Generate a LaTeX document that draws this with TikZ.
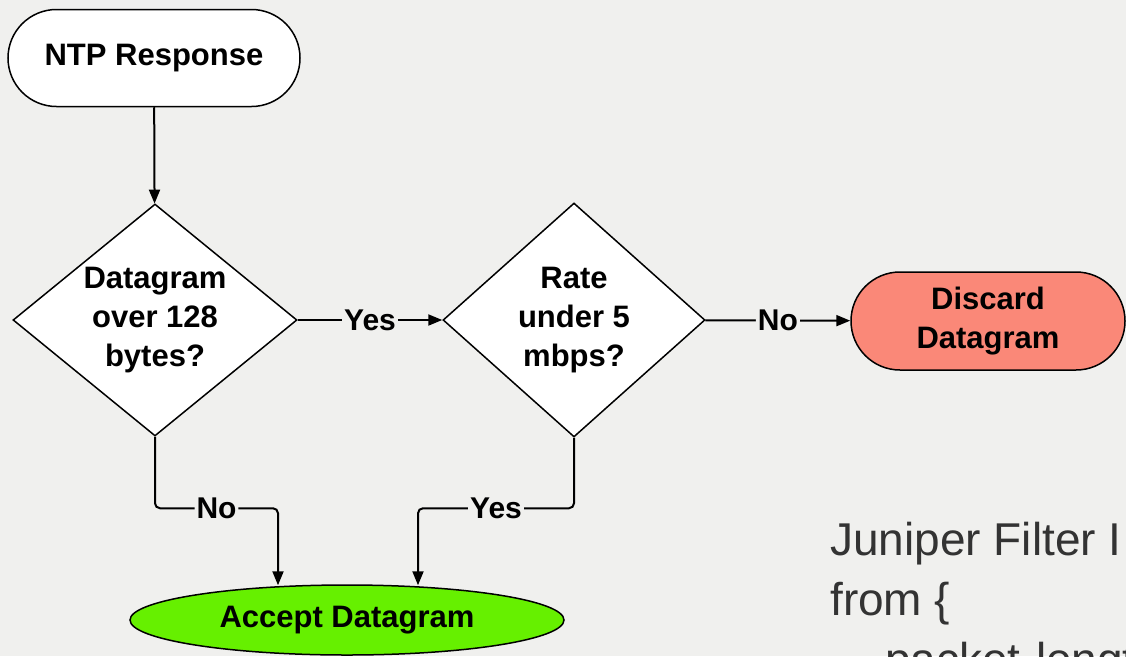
\documentclass[tikz,border=0pt]{standalone}
\usepackage{fontspec}
\setmainfont{Liberation Sans}
\usetikzlibrary{shapes.geometric,shapes.misc,arrows.meta,calc}
\definecolor{bgc}{HTML}{F0F0EE}
\definecolor{discardc}{HTML}{FA8878}
\definecolor{acceptc}{HTML}{66F000}
\definecolor{notec}{HTML}{333333}
\begin{document}
\begin{tikzpicture}[x=1pt, y=-1pt,
        box/.style={draw, line width=1.5pt, align=center, inner sep=0pt,
            font=\bfseries\fontsize{31}{39}\selectfont},
        term/.style={box, rounded rectangle},
        decision/.style={box, diamond, shape aspect=1.2, fill=white},
        flow/.style={line width=2pt, rounded corners=5pt, -{Triangle[length=14pt,width=11pt]}},
        lbl/.style={fill=bgc, inner sep=2pt, font=\bfseries\fontsize{30}{36}\selectfont},
        note/.style={anchor=base west, inner sep=0pt, text=notec, font=\fontsize{46}{60}\selectfont}]
        \useasboundingbox (0,0) rectangle (1126,656);
        \clip (0,0) rectangle (1126,656);
        \fill[bgc] (0,0) rectangle (1126,656);
        \node[term, fill=white, minimum width=292pt, minimum height=97pt] (ntp) at (154,58) {NTP Response};
        \node[decision, minimum width=284pt, minimum height=232pt] (d1) at (155,320) {Datagram\\over 128\\bytes?};
        \node[decision, minimum width=262pt, minimum height=234pt] (d2) at (574,320) {Rate\\under 5\\mbps?};
        \node[term, fill=discardc, minimum width=274pt, minimum height=98pt] (discard) at (988,321) {Discard\\Datagram};
        \node[box, ellipse, fill=acceptc, minimum width=434pt, minimum height=70pt] (accept) at (347,620) {Accept Datagram};
        \draw[flow] (ntp) -- (d1);
        \draw[flow] (d1) -- node[lbl] {Yes} (d2);
        \draw[flow] (d2) -- node[lbl] {No} (discard);
        \draw[flow] (d1.south) |- node[lbl, pos=0.75] {No} ($(accept.north)+(-69,-76)$) -- ($(accept.north)+(-69,1)$);
        \draw[flow] (d2.south) |- node[lbl, pos=0.75] {Yes} ($(accept.north)+(71,-76)$) -- ($(accept.north)+(71,1)$);
        \node[note] (filter) at (830,555) {Juniper Filter I};
        \node[note] (from) at (830,615) {from \{};
        \node[note] (packet) at (885,675) {packet-length};
    \end{tikzpicture}
\end{document}
